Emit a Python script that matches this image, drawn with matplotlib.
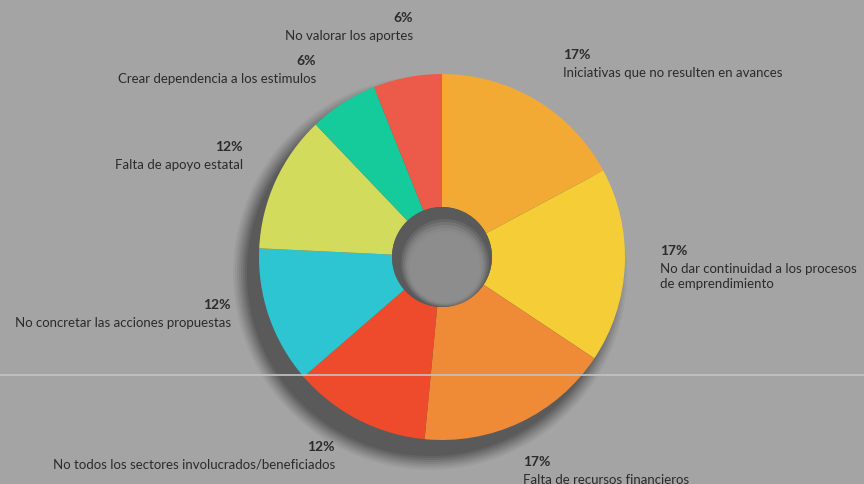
import numpy as np
import matplotlib.pyplot as plt
from matplotlib.patches import Circle
from matplotlib.lines import Line2D

# donut values, clockwise from 12 o'clock
shares = [17, 17, 17, 12, 12, 12, 6, 6]
pct_labels = ['17%', '17%', '17%', '12%', '12%', '12%', '6%', '6%']
names = ['Iniciativas que no resulten en avances',
         'No dar continuidad a los procesos\nde emprendimiento',
         'Falta de recursos financieros',
         'No todos los sectores involucrados/beneficiados',
         'No concretar las acciones propuestas',
         'Falta de apoyo estatal',
         'Crear dependencia a los estimulos',
         'No valorar los aportes']
colors = ['#F2AA35', '#F5CE37', '#EF8A37', '#EE4B2D',
          '#2DC5D1', '#D3DB5C', '#16CB9B', '#EC5B4A']

W, H = 864, 485
bg = '#A4A4A4'
fig = plt.figure(figsize=(W / 100, H / 100), dpi=100, facecolor=bg)
ax = fig.add_axes([0, 0, 1, 1])
ax.set_facecolor(bg)

cx, cy, R, r = 442, H - 258, 183, 50

# soft drop shadow, down-left
for k, a in enumerate(np.linspace(0.05, 0.17, 8)):
    ax.add_patch(Circle((cx - 12, cy - 16), R + 14 - 2 * k,
                        color='#2e2e2e', alpha=a, lw=0, zorder=1))

ax.pie(shares, colors=colors, startangle=90, counterclock=False,
       center=(cx, cy), radius=R,
       wedgeprops=dict(width=R - r, linewidth=0, zorder=3))

# hole with inner shading
ax.add_patch(Circle((cx, cy), r, color='#5a5a5a', lw=0, zorder=4))
for k, a in enumerate(np.linspace(0.25, 0.9, 7)):
    ax.add_patch(Circle((cx + 3, cy - 6 - k), r - 6 - 2 * k,
                        color='#8e8e8e', alpha=a, lw=0, zorder=5))

ax.set_xlim(0, W)
ax.set_ylim(0, H)
ax.set_aspect('auto')
ax.axis('off')

# label anchors (x, y of percentage, alignment)
spots = [(563, 55, 'left'), (660, 251, 'left'), (523, 462, 'left'),
         (335, 447, 'right'), (231, 305, 'right'), (243, 147, 'right'),
         (316, 61, 'right'), (413, 18, 'right')]
font = ['Lato', 'DejaVu Sans']
for (x, y, ha), p, n in zip(spots, pct_labels, names):
    ax.text(x, H - y, p, ha=ha, va='center', fontsize=10, fontweight='bold',
            color='#2b2b2b', family=font, zorder=6)
    ax.text(x, H - y - 12, n, ha=ha, va='top', fontsize=9.5,
            color='#2b2b2b', family=font, linespacing=1.35, zorder=6)

# thin light scan line across the image
fig.add_artist(Line2D([0, 1], [1 - 376 / H, 1 - 376 / H],
                      color='#C4C4C4', lw=1.2, zorder=10))

fig.savefig('out.png', dpi=100, facecolor=bg)
